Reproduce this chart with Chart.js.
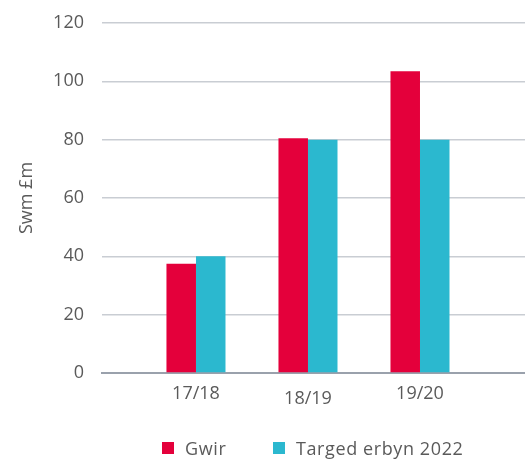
<!DOCTYPE html>
<html>
<head>
<meta charset="utf-8">
<script src="https://cdn.jsdelivr.net/npm/chart.js@4/dist/chart.umd.min.js"></script>
<style>
  html, body { margin: 0; padding: 0; background: #fff; }
  #wrap { width: 525px; height: 459px; position: relative; }
  #legend { position: absolute; left: 162px; top: 436px; height: 24px; display: flex; align-items: center;
            font-family: 'Open Sans', sans-serif; font-size: 18px; color: #5a5a5a; white-space: nowrap;
            letter-spacing: 0.6px; }
  .item { display: flex; align-items: center; }
  .item:first-child { width: 111px; }
  .box { width: 12px; height: 12px; margin-right: 11px; }
</style>
</head>
<body>
<div id="wrap"><canvas id="c" width="525" height="459"></canvas><div id="legend"></div></div>
<script>
const categories = ['17/18', '18/19', '19/20'];
const actualValues = [37.5, 80.5, 103.5];
const targetValues = [40, 80, 80];
const seriesNames = ['Gwir', 'Targed erbyn 2022'];
const seriesColors = ['#e4003b', '#2bb8cf'];
const yTicks = [0, 20, 40, 60, 80, 100, 120];
const yTitle = 'Swm £m';

const FONT = 'Open Sans';
const TXT = '#5a5a5a';

const toPoints = vals => vals.map((v, i) => ({ x: i, y: v }));

const chart = new Chart(document.getElementById('c'), {
  type: 'bar',
  data: {
    datasets: [
      { label: seriesNames[0], data: toPoints(actualValues), backgroundColor: seriesColors[0], borderWidth: 0,
        barPercentage: 1, categoryPercentage: 0.527 },
      { label: seriesNames[1], data: toPoints(targetValues), backgroundColor: seriesColors[1], borderWidth: 0,
        barPercentage: 1, categoryPercentage: 0.527 }
    ]
  },
  options: {
    responsive: false,
    animation: false,
    layout: { padding: { top: 23, right: 0, bottom: 34.5, left: 0 } },
    plugins: {
      tooltip: { enabled: false },
      legend: { display: false }
    },
    scales: {
      x: {
        type: 'linear',
        offset: false,
        min: -0.839,
        max: 2.9375,
        grid: { display: false, drawTicks: false },
        border: { display: true, color: '#9aa1ac', width: 2 },
        afterBuildTicks: s => { s.ticks = categories.map((c, i) => ({ value: i })); },
        ticks: {
          padding: 10,
          color: TXT,
          autoSkip: false,
          maxRotation: 0,
          font: ctx => ({ family: FONT, size: 18, lineHeight: ctx.index === 1 ? 1.75 : 1.2 }),
          callback: v => categories[v] ?? ''
        }
      },
      y: {
        min: 0,
        max: 120,
        afterBuildTicks: s => { s.ticks = yTicks.map(v => ({ value: v })); },
        afterFit: s => { s.width = 102; s.paddingTop = 0; s.paddingBottom = 0; },
        grid: { color: '#c9cdd3', lineWidth: 1.5, drawTicks: false },
        border: { display: false },
        ticks: { padding: 18, color: TXT, font: { family: FONT, size: 18 } },
        title: {
          display: true, text: yTitle, color: TXT,
          font: { family: FONT, size: 18 },
          padding: { top: 16, bottom: 4 }
        }
      }
    }
  }
});

const legendEl = document.getElementById('legend');
chart.data.datasets.forEach(ds => {
  const item = document.createElement('div');
  item.className = 'item';
  const box = document.createElement('span');
  box.className = 'box';
  box.style.background = ds.backgroundColor;
  const txt = document.createElement('span');
  txt.textContent = ds.label;
  item.appendChild(box);
  item.appendChild(txt);
  legendEl.appendChild(item);
});
</script>
</body>
</html>
